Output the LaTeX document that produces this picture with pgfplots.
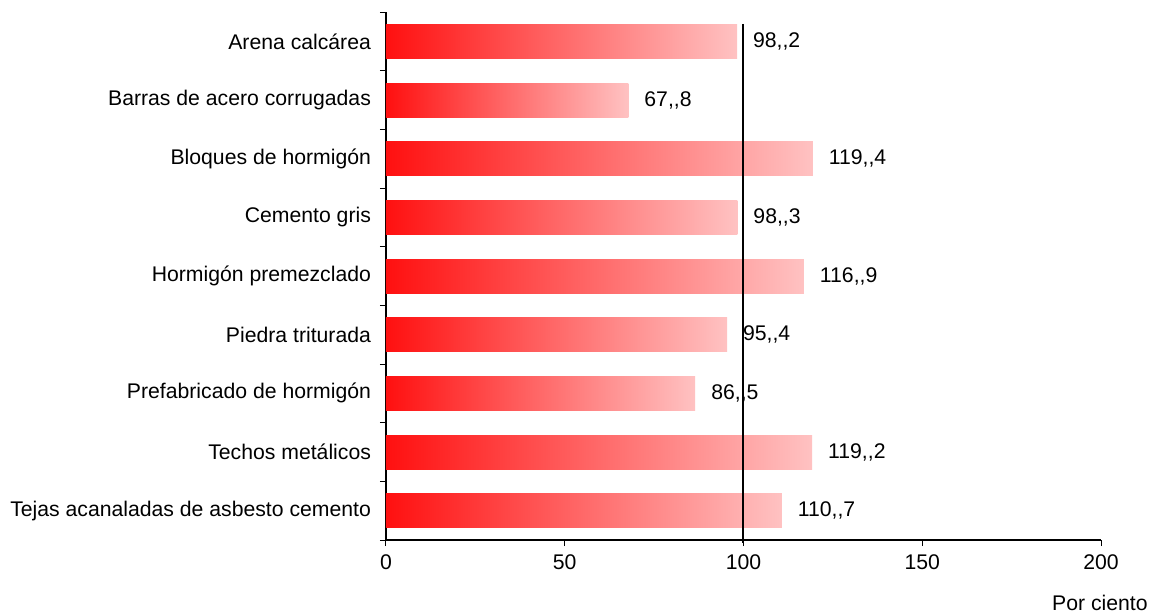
\documentclass[border=0pt]{standalone}
\usepackage{pgfplots}
\pgfplotsset{compat=1.18}
\usepackage{pgfplotstable}
\usepackage{fontspec}
\setmainfont{Liberation Sans}[Ligatures=TeXOff]
\definecolor{barstart}{RGB}{255,16,16}
\definecolor{barmid}{RGB}{255,130,130}
\definecolor{barend}{RGB}{255,194,194}

% posicion, valor, etiqueta
\pgfplotstableread{
pos val lab
0 98.2  98,,2
1 67.8  67,,8
2 119.4 119,,4
3 98.3  98,,3
4 116.9 116,,9
5 95.4  95,,4
6 86.5  86,,5
7 119.2 119,,2
8 110.7 110,,7
}\datos

\begin{document}
\begin{tikzpicture}
  \begin{axis}[
      scale only axis,
      width=357.5pt, height=264pt,
      bar width=17pt,
      xmin=0, xmax=200,
      ymin=-0.5, ymax=8.5,
      y dir=reverse,
      axis x line*=bottom, axis y line*=left,
      axis line style={-, black, line width=0.6pt},
      tick align=outside,
      xtick={0,50,...,200},
      major tick length=3pt,
      ytick={0,...,8},
      yticklabels={Arena calcárea, Barras de acero corrugadas, Bloques de hormigón,
        Cemento gris, Hormigón premezclado, Piedra triturada,
        Prefabricado de hormigón, Techos metálicos,
        Tejas acanaladas de asbesto cemento},
      major y tick style={draw=none},
      minor ytick={-0.5,0.5,...,8.5},
      minor tick length=3pt,
      minor y tick style={black, line width=0.5pt},
      x tick style={black, line width=0.5pt},
      ticklabel style={font=\fontsize{10.6}{12}\selectfont},
      /pgf/number format/assume math mode=true,
      yticklabel style={xshift=-1pt},
      xticklabel style={yshift=-1pt},
      xlabel={Por ciento},
      xlabel style={at={(rel axis cs:1,0)}, anchor=base east, inner sep=0pt,
        yshift=-35pt, xshift=23.5pt, font=\fontsize{10.6}{12}\selectfont},
      clip=false,
    ]
    \pgfplotsinvokeforeach{0,...,8}{
      \addplot[xbar, bar shift=0pt, draw=none, shading=axis,
        left color=barstart, middle color=barmid, right color=barend,
        restrict expr to domain={\thisrow{pos}}{#1:#1},
        nodes near coords, point meta=explicit symbolic,
        nodes near coords style={font=\fontsize{10.6}{12}\selectfont, black,
          anchor=west, xshift=4.5pt}]
        table[x=val, y=pos, meta=lab] {\datos};
    }
    \addplot[black, line width=1pt, forget plot] coordinates {(100,-0.3) (100,8.55)};
  \end{axis}
  \path ([shift={(-193pt,-36pt)}]current axis.south west) rectangle ([shift={(385pt,270pt)}]current axis.south west);
\end{tikzpicture}
\end{document}
